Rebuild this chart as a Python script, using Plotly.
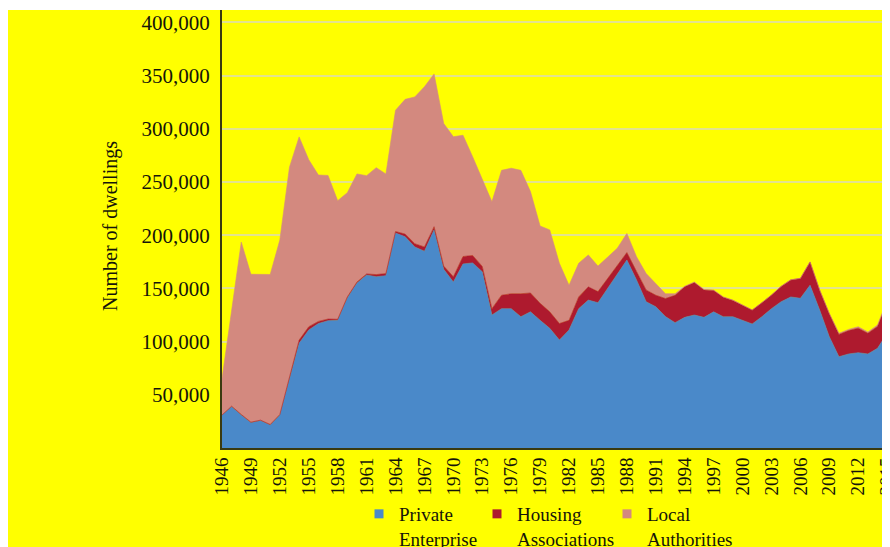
import plotly.graph_objects as go

years = list(range(1946, 2016))

private_enterprise = [
    31, 38.8, 31, 23.8, 25.7, 21.6, 31, 64, 98.4, 111,
    117, 119.7, 120, 141, 155, 162.6, 161, 162, 202, 198.6,
    189, 185, 205, 168, 156, 173, 174, 165.7, 125, 131,
    131, 123.4, 128, 120, 112.5, 101.5, 111, 131, 139, 136.6,
    150, 162.6, 176.7, 158, 137.5, 132.8, 123.5, 117.8, 122.8, 125,
    122.8, 128, 123.4, 123.4, 120.3, 116.6, 123.4, 131, 137.5, 142,
    140.7, 153, 129.7, 104.6, 85.8, 88.4, 89.6, 88.4, 93.7, 107.8,
]

housing_associations = [
    0, 0.5, 0.5, 0.5, 0.5, 0.5, 0.5, 3, 3, 3,
    2, 1.5, 1, 1, 1, 1, 2, 2, 1.5, 2.5,
    3, 4, 3, 3, 5, 7, 7, 5, 6, 12.6,
    14, 21.6, 17.7, 16, 15.5, 15.5, 9, 11, 12.5, 10.4,
    9.5, 9.4, 7, 8, 11, 10.8, 17, 25.7, 28.7, 30.5,
    25.7, 20, 18.3, 15.3, 13.5, 13, 13.1, 12.7, 14.4, 16,
    18.7, 21.8, 18.6, 21.5, 21, 22, 23, 19.5, 20.5, 29.5,
]

local_authorities = [
    34, 89, 162, 139, 137, 141, 164, 197, 191, 157,
    137.6, 135, 111.5, 98, 101.6, 92.4, 100.5, 93.6, 114, 126.6,
    138, 150.6, 143.6, 134, 131.6, 114, 92.8, 81.3, 100.5, 117.4,
    118, 116, 95.3, 72.7, 77, 56.6, 33, 31.6, 30, 24,
    20.3, 15.7, 18, 13.8, 15.5, 11, 4.5, 1.5, 0.5, 0.5,
    0.5, 0.5, 0.3, 0.3, 0.2, 0.1, 0.1, 0.1, 0.1, 0.1,
    0.1, 0.2, 0.3, 0.5, 1.0, 1.1, 1.4, 1.1, 1.4, 1.7,
]

series_names = ["Private<br>Enterprise", "Housing<br>Associations", "Local<br>Authorities"]
series_colors = ["#4A89C9", "#AE1A2E", "#D3897F"]

y_tick_values = [50000, 100000, 150000, 200000, 250000, 300000, 350000, 400000]
y_tick_labels = ["50,000", "100,000", "150,000", "200,000", "250,000", "300,000", "350,000", "400,000"]
x_tick_years = list(range(1946, 2016, 3))

FONT = "Liberation Serif"
TXT = "#15150a"

# figure sits at an 8px page offset (default body margin)
W, H = 882, 539
L, R, T, B = 214, 0, 2, 99
pw, ph = W - L - R, H - T - B
PLOT_BOTTOM = H - B

fig = go.Figure()
for vals, name, col in zip([private_enterprise, housing_associations, local_authorities],
                           series_names, series_colors):
    fig.add_trace(go.Scatter(
        x=years, y=[v * 1000 for v in vals], name=name,
        mode="lines", stackgroup="one",
        line=dict(width=0.6, color=col), fillcolor=col,
        showlegend=False, hoverinfo="skip",
    ))

legend_ids = ["legend", "legend2", "legend3"]
legend_text_x = [396, 514, 644]  # page px where each legend text starts
for name, col, lid in zip(series_names, series_colors, legend_ids):
    fig.add_trace(go.Scatter(
        x=[None], y=[None], mode="markers", name=name,
        marker=dict(symbol="square", size=9, color=col),
        showlegend=True, legend=lid,
    ))

legend_top_fig = 487
legend_common = dict(
    orientation="v", xanchor="left", yanchor="top",
    y=(PLOT_BOTTOM - legend_top_fig) / ph,
    bgcolor="rgba(0,0,0,0)", valign="top", borderwidth=0,
    font=dict(family=FONT, size=19, color=TXT), itemwidth=30,
)
legend_layouts = {}
for lid, tx in zip(legend_ids, legend_text_x):
    fx = tx - 8 - 37
    legend_layouts[lid] = dict(legend_common, x=(fx - L) / pw)

fig.update_layout(
    width=W, height=H,
    margin=dict(l=L, r=R, t=T, b=B, pad=0, autoexpand=False),
    paper_bgcolor="#FFFF00", plot_bgcolor="#FFFF00",
    font=dict(family=FONT, size=20, color=TXT),
    showlegend=True,
    **legend_layouts,
    xaxis=dict(
        range=[1946, 1946 + pw / 9.64], tickmode="array", tickvals=x_tick_years,
        ticktext=[str(y) for y in x_tick_years], tickangle=-90,
        showgrid=False, zeroline=False, showline=True,
        linecolor="#3a3a10", linewidth=2, ticks="",
        ticklabeloverflow="allow",
        tickfont=dict(family=FONT, size=19, color=TXT),
    ),
    yaxis=dict(
        range=[0, 411700], tickmode="array", tickvals=y_tick_values,
        ticktext=y_tick_labels,
        showgrid=True, gridcolor="#E3E38C", gridwidth=2,
        zeroline=False, showline=True, linecolor="#3a3a10", linewidth=2,
        ticks="outside", ticklen=6, tickcolor="rgba(0,0,0,0)",
        tickfont=dict(family=FONT, size=21, color=TXT),
    ),
    annotations=[dict(
        text="Number of dwellings", xref="paper", yref="paper",
        x=(102 - L) / pw, y=(PLOT_BOTTOM - 218) / ph, xanchor="center", yanchor="middle",
        textangle=-90, showarrow=False,
        font=dict(family=FONT, size=20, color=TXT),
    )],
    shapes=[
        dict(type="rect", xref="paper", yref="paper", layer="above",
             x0=-L / pw, x1=1.0, y0=1.0, y1=1.0 + T / ph,
             fillcolor="white", line=dict(width=0)),
    ],
)

fig.write_html("out.html")
